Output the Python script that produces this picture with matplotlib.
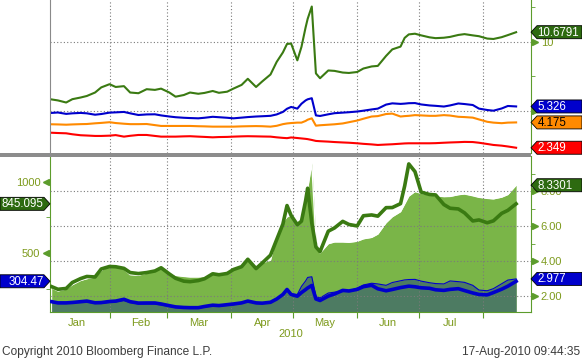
import matplotlib
matplotlib.use('Agg')
import matplotlib.pyplot as plt
import matplotlib.dates as mdates
import matplotlib.patches as mpatches
import matplotlib.transforms as mtransforms
import pandas as pd
from datetime import datetime

plt.rcParams['font.family'] = ['Liberation Sans', 'DejaVu Sans']

dates = pd.to_datetime([
    '2010-01-04', '2010-01-07', '2010-01-11', '2010-01-14', '2010-01-18', '2010-01-21', '2010-01-25', '2010-01-28',
    '2010-02-01', '2010-02-04', '2010-02-08', '2010-02-11', '2010-02-15', '2010-02-19', '2010-02-23', '2010-02-26',
    '2010-03-02', '2010-03-05', '2010-03-09', '2010-03-12', '2010-03-16', '2010-03-19', '2010-03-23', '2010-03-26',
    '2010-03-30',
    '2010-04-02', '2010-04-06', '2010-04-09', '2010-04-13', '2010-04-16', '2010-04-20', '2010-04-23', '2010-04-26',
    '2010-04-28', '2010-04-30',
    '2010-05-03', '2010-05-05', '2010-05-07', '2010-05-08', '2010-05-10', '2010-05-12', '2010-05-14', '2010-05-18',
    '2010-05-21', '2010-05-25', '2010-05-28',
    '2010-06-01', '2010-06-04', '2010-06-08', '2010-06-11', '2010-06-15', '2010-06-18', '2010-06-22', '2010-06-24',
    '2010-06-26', '2010-06-29',
    '2010-07-02', '2010-07-06', '2010-07-09', '2010-07-13', '2010-07-16', '2010-07-20', '2010-07-23', '2010-07-27',
    '2010-07-30',
    '2010-08-03', '2010-08-06', '2010-08-10', '2010-08-13', '2010-08-17',
])

# --- top panel (single right-hand scale) ---
top_green = [5.83, 5.76, 5.61, 5.85, 5.97, 6.08, 6.33, 6.70,
             6.93, 6.73, 6.79, 6.33, 6.28, 6.57, 6.52, 6.61,
             6.33, 6.03, 6.15, 6.33, 6.24, 6.30, 6.44, 6.31, 6.39,
             6.61, 6.88, 7.32, 6.73, 7.13, 7.63, 8.54, 9.22, 9.83, 9.86,
             8.65, 9.62, 11.02, 11.64, 12.53, 7.71, 7.36, 7.92, 7.89, 7.77, 7.74,
             7.81, 8.06, 8.21, 8.25, 8.97, 9.44, 9.64, 10.27, 10.52, 10.57,
             10.45, 10.31, 10.25, 10.28, 10.34, 10.48, 10.54, 10.45, 10.39,
             10.22, 10.19, 10.32, 10.47, 10.6791]
top_blue = [4.86, 4.89, 4.79, 4.83, 4.86, 4.83, 4.73, 4.78,
            4.88, 4.90, 4.93, 4.83, 4.71, 4.75, 4.76, 4.68,
            4.60, 4.55, 4.51, 4.49, 4.47, 4.51, 4.58, 4.55, 4.51,
            4.47, 4.52, 4.56, 4.60, 4.62, 4.65, 4.75, 4.93, 5.16, 5.29,
            5.17, 5.52, 5.76, 5.84, 5.92, 4.68, 4.64, 4.76, 4.84, 4.88, 4.91,
            4.96, 5.02, 5.11, 5.17, 5.46, 5.55, 5.51, 5.53, 5.56, 5.57,
            5.47, 5.40, 5.37, 5.32, 5.40, 5.54, 5.50, 5.43, 5.17,
            5.07, 5.02, 5.18, 5.36, 5.326]
top_orange = [4.04, 4.03, 4.01, 4.03, 4.05, 4.06, 4.11, 4.14,
              4.19, 4.13, 4.08, 4.05, 4.05, 4.06, 3.98, 3.92,
              3.92, 3.92, 3.92, 3.92, 3.90, 3.89, 3.87, 3.87, 3.87,
              3.87, 3.89, 3.90, 3.91, 3.90, 3.87, 3.93, 4.05, 4.10, 4.13,
              4.16, 4.16, 4.28, 4.37, 4.47, 3.94, 3.97, 4.01, 4.04, 4.10, 4.19,
              4.31, 4.44, 4.60, 4.63, 4.78, 4.81, 4.60, 4.63, 4.65, 4.70,
              4.68, 4.65, 4.65, 4.70, 4.67, 4.58, 4.56, 4.52, 4.39,
              4.22, 4.16, 4.12, 4.16, 4.175]
top_red = [3.43, 3.41, 3.39, 3.32, 3.25, 3.23, 3.20, 3.20,
           3.22, 3.26, 3.15, 3.21, 3.27, 3.27, 3.20, 3.15,
           3.15, 3.15, 3.17, 3.18, 3.15, 3.13, 3.10, 3.12, 3.13,
           3.15, 3.17, 3.18, 3.17, 3.16, 3.15, 3.10, 3.06, 3.04, 3.09,
           3.05, 3.02, 2.99, 2.97, 2.91, 2.84, 2.82, 2.79, 2.76, 2.73, 2.71,
           2.67, 2.63, 2.59, 2.55, 2.58, 2.60, 2.64, 2.66, 2.67, 2.67,
           2.67, 2.67, 2.68, 2.71, 2.73, 2.75, 2.77, 2.76, 2.71,
           2.62, 2.55, 2.50, 2.44, 2.349]

# --- bottom panel, left scale (thick lines) ---
bot_green_line = [266.8, 248.6, 254.2, 296.1, 323.3, 338.0, 334.5, 390.4,
                  407.8, 405.8, 394.6, 365.3, 358.3, 365.3, 376.4, 398.8,
                  355.5, 325.4, 305.2, 301.7, 309.4, 321.9, 356.9, 349.9, 359.0,
                  386.2, 406.4, 458.1, 393.2, 432.3, 486.8, 595.7, 703.9, 833.1, 763.3,
                  699.7, 724.2, 865.9, 953.9, 711.6, 544.0, 511.2, 654.3, 676.7, 722.8, 701.1,
                  690.7, 761.9, 767.5, 759.1, 818.4, 819.1, 846.4, 970.0, 1123.6, 1069.8,
                  926.7, 910.6, 907.1, 840.1, 814.3, 809.4, 782.1, 725.6, 732.6,
                  713.0, 726.3, 778.6, 799.6, 845.095]
bot_blue_line = [162.0, 153.7, 153.7, 156.5, 162.0, 166.2, 154.4, 155.8,
                 163.4, 166.2, 178.8, 162.0, 152.3, 153.0, 153.0, 146.0,
                 134.1, 125.7, 121.6, 120.2, 120.2, 128.5, 137.6, 134.8, 141.1,
                 146.0, 153.7, 166.2, 153.7, 151.6, 157.9, 180.9, 212.3, 247.2, 212.3,
                 200.5, 225.6, 246.5, 257.7, 275.2, 180.9, 170.4, 201.1, 215.8, 240.9, 236.8,
                 247.9, 266.8, 276.6, 252.1, 238.2, 247.2, 260.5, 265.4, 270.3, 266.1,
                 259.1, 255.6, 245.1, 240.9, 247.9, 252.8, 239.6, 222.8, 212.3,
                 209.5, 225.6, 249.3, 270.3, 304.47]

# --- bottom panel, right scale (areas) ---
bot_green_area = [2.46, 2.29, 2.40, 2.65, 2.89, 2.99, 3.09, 3.46,
                  3.75, 3.74, 3.54, 3.22, 3.19, 3.31, 3.42, 3.60,
                  3.33, 3.18, 3.12, 3.09, 3.09, 3.12, 3.31, 3.31, 3.37,
                  3.54, 3.71, 4.09, 3.69, 3.90, 4.05, 5.42, 6.22, 6.52, 6.62,
                  6.05, 6.39, 7.53, 8.13, 9.60, 5.20, 4.46, 4.99, 5.09, 5.09, 5.07,
                  5.13, 5.27, 5.35, 5.54, 6.19, 6.53, 6.82, 7.26, 7.71, 7.97,
                  7.87, 7.79, 7.73, 7.68, 7.69, 7.79, 7.83, 7.73, 7.64,
                  7.58, 7.55, 7.65, 7.80, 8.3301]
bot_teal_area = [1.63, 1.57, 1.57, 1.60, 1.63, 1.66, 1.57, 1.57,
                 1.63, 1.66, 1.74, 1.63, 1.54, 1.54, 1.54, 1.49,
                 1.40, 1.34, 1.31, 1.30, 1.30, 1.37, 1.43, 1.41, 1.46,
                 1.49, 1.57, 1.69, 1.57, 1.56, 1.63, 1.83, 2.11, 2.34, 2.11,
                 2.09, 2.55, 2.86, 3.06, 3.10, 1.98, 1.89, 2.17, 2.22, 2.25, 2.29,
                 2.45, 2.63, 2.73, 2.69, 2.61, 2.77, 2.87, 2.92, 2.94, 2.95,
                 2.85, 2.76, 2.71, 2.69, 2.86, 2.82, 2.78, 2.61, 2.34,
                 2.30, 2.42, 2.70, 2.91, 2.977]

top_ticks = [5, 10]
top_tick_labels = ['', '10']   # the "5" sits hidden under the 5.326 tag
right_ticks = [2, 4, 6, 8]
right_tick_labels = ['2.00', '4.00', '6.00', '8.00']
left_ticks = [500, 1000]
left_tick_labels = ['500', '1000']

GREEN = '#3a7a12'
TAG_GREEN = '#2d6a10'
BLUE = '#0000cc'
ORANGE = '#ff8a00'
RED = '#ff0000'
AREA_GREEN = '#7ab548'
AREA_TEAL = '#4d7b62'
AXIS_GREEN = '#5c9c2c'
LABEL = '#7d9a1c'
GRID = '#7a7a7a'
DOTS = (0, (1, 2))

W, H = 582, 360
fig = plt.figure(figsize=(W / 100, H / 100), dpi=100)


def box(left, top, right, bottom):
    return [left / W, 1 - bottom / H, (right - left) / W, (bottom - top) / H]


ax_top = fig.add_axes(box(50, 0, 531, 153))
ax_b = fig.add_axes(box(50, 156, 531, 312))
ax_bl = ax_b.twinx()
ax_b.yaxis.tick_right()
ax_bl.yaxis.tick_left()

x0 = mdates.date2num(datetime(2010, 1, 3, 4))
x1 = mdates.date2num(datetime(2010, 8, 24, 5))

# top panel
for vals, col in [(top_red, RED), (top_orange, ORANGE), (top_blue, BLUE), (top_green, GREEN)]:
    ax_top.plot(dates, vals, color=col, lw=1.5, solid_joinstyle='round')
ax_top.set_xlim(x0, x1)
ax_top.set_ylim(1.97, 13.0)
ax_top.yaxis.tick_right()
ax_top.set_yticks(top_ticks, top_tick_labels)
ax_top.set_yticks([2.5, 7.5, 12.5], minor=True)
ax_top.xaxis.set_major_locator(mdates.MonthLocator())
ax_top.tick_params(axis='x', length=0, labelbottom=False)
ax_top.tick_params(axis='y', which='major', length=0, pad=7, labelcolor=LABEL, labelsize=8)
ax_top.tick_params(axis='y', which='minor', length=3, color=AXIS_GREEN)
ax_top.grid(True, which='major', color=GRID, ls=DOTS, lw=0.8)
ax_top.spines['top'].set_visible(False)
ax_top.spines['bottom'].set_visible(False)
ax_top.spines['left'].set_color('#8a8a8a')
ax_top.spines['right'].set_color(AXIS_GREEN)
ax_top.plot([1.008] * 2, top_ticks, ls='none', marker='>', ms=4, color=AXIS_GREEN,
            transform=ax_top.get_yaxis_transform(), clip_on=False)

# bottom panel, areas on the right scale
ax_b.fill_between(dates, bot_green_area, 0, color=AREA_GREEN, lw=0)
ax_b.plot(dates, bot_green_area, color='white', lw=1)
ax_b.fill_between(dates, bot_teal_area, 0, color=AREA_TEAL, lw=0)
ax_b.plot(dates, bot_teal_area, color=BLUE, lw=0.8)
ax_b.set_xlim(x0, x1)
ax_b.set_ylim(1.086, 10.0)
ax_b.set_yticks(right_ticks, right_tick_labels)
ax_b.set_yticks([3, 5, 7, 9], minor=True)
ax_b.tick_params(axis='y', which='major', length=0, pad=7, labelcolor=LABEL, labelsize=8)
ax_b.tick_params(axis='y', which='minor', length=3, color=AXIS_GREEN)
ax_b.xaxis.set_major_locator(mdates.MonthLocator())
ax_b.xaxis.set_major_formatter(plt.NullFormatter())
ax_b.xaxis.set_minor_locator(mdates.MonthLocator(bymonth=range(1, 8), bymonthday=16))
ax_b.xaxis.set_minor_formatter(mdates.DateFormatter('%b'))
ax_b.tick_params(axis='x', which='major', length=4, color=AXIS_GREEN)
ax_b.tick_params(axis='x', which='minor', length=0, pad=4, labelcolor=LABEL, labelsize=8)
ax_b.set_xlabel('2010', color=LABEL, fontsize=8, labelpad=1)
ax_b.set_axisbelow(False)
ax_b.grid(True, which='major', color=GRID, ls=DOTS, lw=0.8)
ax_b.spines['top'].set_visible(False)
for side in ['left', 'right', 'bottom']:
    ax_b.spines[side].set_color(AXIS_GREEN)
ax_b.plot([1.008] * 4, right_ticks, ls='none', marker='>', ms=4, color=AXIS_GREEN,
          transform=ax_b.get_yaxis_transform(), clip_on=False)

# bottom panel, thick lines on the left scale
ax_bl.plot(dates, bot_green_line, color=GREEN, lw=2.6, solid_joinstyle='round')
ax_bl.plot(dates, bot_blue_line, color=BLUE, lw=2.6, solid_joinstyle='round')
ax_bl.set_ylim(90, 1179)
ax_bl.set_yticks(left_ticks, left_tick_labels)
ax_bl.set_yticks([250, 750], minor=True)
ax_bl.tick_params(axis='y', which='major', length=0, pad=7, labelcolor=LABEL, labelsize=8)
ax_bl.tick_params(axis='y', which='minor', length=3, color=AXIS_GREEN)
for s in ax_bl.spines.values():
    s.set_visible(False)
ax_bl.plot([-0.008] * 2, left_ticks, ls='none', marker='<', ms=4, color=AXIS_GREEN,
           transform=ax_bl.get_yaxis_transform(), clip_on=False)

# grey divider between the panels
fig.add_artist(mpatches.Rectangle((0, 1 - 156.5 / H), 531 / W, 3.5 / H,
                                  transform=fig.transFigure, color='#8c8c8c', lw=0))


def value_tag(ax, value, text, face, text_color, side):
    """Bloomberg style last-value tag pointing at the axis."""
    y = ax.transData.transform((ax.get_xlim()[0], value))[1]
    half = 6.5
    if side == 'right':
        tip = ax.transAxes.transform((1, 0))[0]
        verts = [(tip, y), (tip + 6, y + half), (W, y + half), (W, y - half), (tip + 6, y - half)]
        tx, ha = tip + 6.5, 'left'
    else:
        tip = ax.transAxes.transform((0, 0))[0]
        verts = [(tip, y), (tip - 6, y + half), (0, y + half), (0, y - half), (tip - 6, y - half)]
        tx, ha = tip - 6.5, 'right'
    ident = mtransforms.IdentityTransform()
    fig.add_artist(mpatches.Polygon(verts, closed=True, facecolor=face, edgecolor='black',
                                    lw=0.6, transform=ident, zorder=5))
    fig.text(tx, y - 0.5, text, color=text_color, fontsize=8.3, ha=ha, va='center',
             transform=ident, zorder=6)


value_tag(ax_top, top_green[-1], '10.6791', TAG_GREEN, 'white', 'right')
value_tag(ax_top, top_blue[-1], '5.326', BLUE, 'white', 'right')
value_tag(ax_top, top_orange[-1], '4.175', ORANGE, 'black', 'right')
value_tag(ax_top, top_red[-1], '2.349', RED, 'white', 'right')
value_tag(ax_b, bot_green_area[-1], '8.3301', TAG_GREEN, 'white', 'right')
value_tag(ax_b, bot_teal_area[-1], '2.977', BLUE, 'white', 'right')
value_tag(ax_bl, bot_green_line[-1], '845.095', TAG_GREEN, 'white', 'left')
value_tag(ax_bl, bot_blue_line[-1], '304.47', BLUE, 'white', 'left')

fig.text(2 / W, 1 - 352 / H, 'Copyright 2010 Bloomberg Finance L.P.', color='#3c3c3c',
         fontsize=8.6, ha='left', va='center')
fig.text(580 / W, 1 - 352 / H, '17-Aug-2010 09:44:35', color='#3c3c3c',
         fontsize=8.6, ha='right', va='center')

fig.savefig('out.png', dpi=100)
